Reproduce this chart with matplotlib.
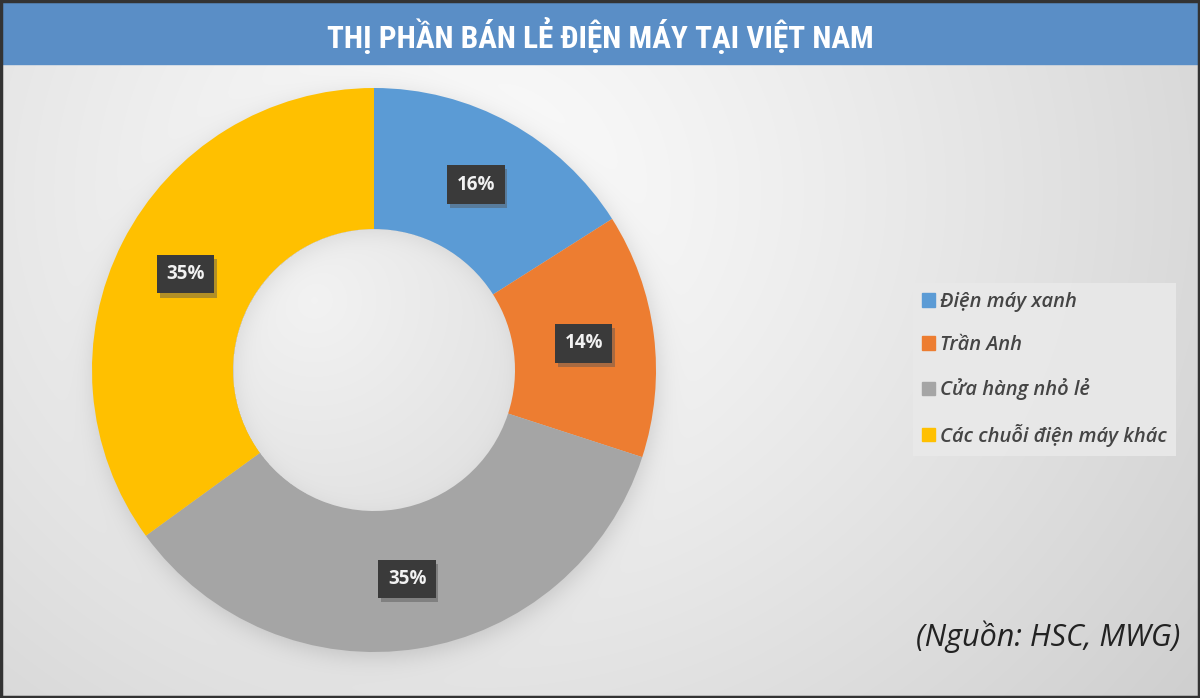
import numpy as np
import matplotlib.pyplot as plt
import matplotlib.patheffects as pe
from matplotlib.patches import Rectangle, Patch

# data
labels = ["Điện máy xanh", "Trần Anh", "Cửa hàng nhỏ lẻ", "Các chuỗi điện máy khác"]
shares = [16, 14, 35, 35]
colors = ["#5B9BD5", "#ED7D31", "#A5A5A5", "#FFC000"]
title = "THỊ PHẦN BÁN LẺ ĐIỆN MÁY TẠI VIỆT NAM"
source = "(Nguồn: HSC, MWG)"

W, H = 1200, 698
cx, cy, R = 374, 370, 282   # donut centre / radius in pixels

fig = plt.figure(figsize=(W / 100, H / 100), dpi=100)

# background: soft radial gradient + blurred donut shadow
yy, xx = np.mgrid[0:H, 0:W]
d = np.hypot(xx - 470, (yy - 190) / 0.9)
bg = 0.985 - 0.17 * np.clip(d / 900, 0, 1) ** 1.2
ds = np.hypot(xx - cx - 2, yy - cy - 5)
bg = bg - 0.13 / (1 + np.exp((ds - R) / 7.0))
# inner hole shading
dh = np.hypot(xx - cx, yy - cy)
hole = dh < R * 0.5
shade = 0.95 - 0.07 * np.clip(np.hypot(xx - cx + 60, yy - cy + 70) / 260, 0, 1)
edge = 0.07 / (1 + np.exp((R * 0.5 - np.hypot(xx - cx - 3, yy - cy - 5)) / 6.0))
bg = np.where(hole, shade - edge, bg)
bgax = fig.add_axes([0, 0, 1, 1])
bgax.imshow(np.dstack([bg, bg, bg]).clip(0, 1), extent=[0, W, H, 0], aspect="auto")
bgax.set_xlim(0, W)
bgax.set_ylim(H, 0)
bgax.axis("off")

# title bar and frame
bgax.add_patch(Rectangle((0, 0), W, 64, color="#5A8EC6", zorder=2))
bgax.add_patch(Rectangle((1, 1), W - 2.5, H - 2.5, fill=False, ec="#333333", lw=2.5, zorder=5))
bgax.text(600, 35, title, color="white", fontsize=22.5, fontweight="bold",
          ha="center", va="center", zorder=3,
          family=["Liberation Sans Narrow", "Roboto Condensed", "Open Sans", "DejaVu Sans"])
bgax.text(1180, 637, source, color="#222222", fontsize=22, style="italic",
          ha="right", va="center", family=["Open Sans", "DejaVu Sans"])

# donut
ax = fig.add_axes([(cx - R) / W, (H - cy - R) / H, 2 * R / W, 2 * R / H])
wedges, texts, autotexts = ax.pie(
    shares, colors=colors, startangle=90, counterclock=False, radius=1,
    autopct=lambda p: "%d%%" % round(p), pctdistance=0.75,
    wedgeprops=dict(width=0.5, linewidth=0))
ax.set_xlim(-1, 1)
ax.set_ylim(-1, 1)
ax.set_aspect("equal")
for t in autotexts:
    t.set_color("#F2F2F2")
    t.set_fontsize(13.5)
    t.set_fontweight("bold")
    t.set_family(["Open Sans", "DejaVu Sans"])
    t.set_bbox(dict(boxstyle="square,pad=0.5", fc="#3A3A3A", ec="none"))
    t.get_bbox_patch().set_path_effects(
        [pe.SimplePatchShadow(offset=(2, -3), shadow_rgbFace="#555555", alpha=0.45), pe.Normal()])

# legend
handles = [Patch(color=c) for c in colors]
leg = fig.legend(handles, labels, loc="upper left",
                 bbox_to_anchor=(913 / W, 1 - 283 / H), borderaxespad=0, frameon=True,
                 prop=dict(family=["Open Sans", "DejaVu Sans"], style="italic",
                           weight="semibold", size=14.5),
                 handlelength=0.65, handleheight=0.65, handletextpad=0.25,
                 labelspacing=1.15, borderpad=0.45, fancybox=False)
leg.get_frame().set_facecolor("#E9E9E9")
leg.get_frame().set_edgecolor("none")
leg.get_frame().set_alpha(0.9)
for t in leg.get_texts():
    t.set_color("#454545")

fig.savefig("out.png", dpi=100)
